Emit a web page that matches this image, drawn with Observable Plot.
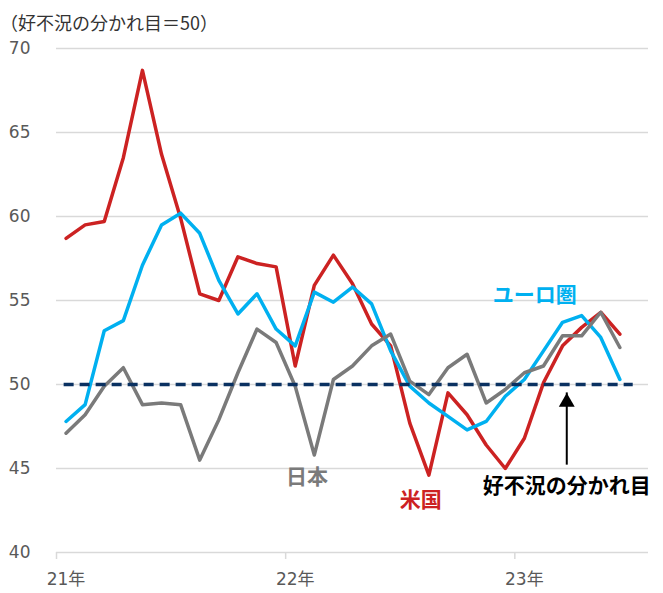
<!DOCTYPE html>
<html>
<head>
<meta charset="utf-8">
<script src="https://cdn.jsdelivr.net/npm/d3@7"></script>
<script src="https://cdn.jsdelivr.net/npm/@observablehq/plot@0.6"></script>
<style>
  html, body { margin: 0; padding: 0; background: #fff; }
  #wrap { position: relative; width: 663px; height: 593px; }
  #title { position: absolute; left: 0px; top: 12px; font: 18px/20px "Noto Sans CJK JP", sans-serif; color: #333; white-space: nowrap; }
  #chart { position: absolute; left: 0; top: 36px; }
</style>
</head>
<body>
<div id="wrap">
  <div id="title">（好不況の分かれ目＝50）</div>
  <div id="chart"></div>
</div>
<script>
// Months (Jan 2021 – Jun 2023), composite PMI
const months = ["2021-01","2021-02","2021-03","2021-04","2021-05","2021-06","2021-07","2021-08","2021-09","2021-10","2021-11","2021-12",
                "2022-01","2022-02","2022-03","2022-04","2022-05","2022-06","2022-07","2022-08","2022-09","2022-10","2022-11","2022-12",
                "2023-01","2023-02","2023-03","2023-04","2023-05","2023-06"];
const us    = [58.7,59.5,59.7,63.5,68.7,63.7,59.9,55.4,55.0,57.6,57.2,57.0,51.1,55.9,57.7,56.0,53.6,52.3,47.7,44.6,49.5,48.2,46.4,45.0,46.8,50.1,52.3,53.4,54.3,53.0];
const euro  = [47.8,48.8,53.2,53.8,57.1,59.5,60.2,59.0,56.2,54.2,55.4,53.3,52.3,55.5,54.9,55.8,54.8,52.0,49.9,48.9,48.1,47.3,47.8,49.3,50.3,52.0,53.7,54.1,52.8,50.3];
const japan = [47.1,48.2,49.9,51.0,48.8,48.9,48.8,45.5,47.9,50.7,53.3,52.5,49.9,45.8,50.3,51.1,52.3,53.0,50.2,49.4,51.0,51.8,48.9,49.7,50.7,51.1,52.9,52.9,54.3,52.2];
const threshold = 50;
const yTicks = [40, 45, 50, 55, 60, 65, 70];
const yearLabels = ["21年", "22年", "23年"];
const yearStarts = [0, 12, 24];          // month index of each January
const yearBoundaries = [-0.5, 11.5, 23.5];
const labels = [
  {text: "ユーロ圏", x: 24.55, y: 55.3, color: "#00b0f0"},
  {text: "日本", x: 12.62, y: 44.45, color: "#7a7a7a"},
  {text: "米国", x: 18.58, y: 43.08, color: "#cc2222"},
  {text: "好不況の分かれ目", x: 26.22, y: 43.97, color: "#000000"}
];
const arrowData = [{x: 26.22, from: 45.2, to: 49.5}];

const RED = "#cc2222", BLUE = "#00b0f0", GRAY = "#7a7a7a", NAVY = "#0a3161";
const rows = vals => vals.map((v, i) => ({i, v, month: months[i]}));

const chart = Plot.plot({
  width: 663,
  height: 557,
  marginLeft: 56,
  marginRight: 15,
  marginTop: 12,
  marginBottom: 41,
  style: {fontFamily: '"DejaVu Sans","Noto Sans CJK JP",sans-serif', fontSize: "17px", color: "#595959", background: "white"},
  x: {domain: [-0.5, 30.5], axis: null},
  y: {domain: [40, 70], axis: null},
  marks: [
    Plot.ruleY(yTicks, {stroke: "#d9d9d9", strokeWidth: 1.5}),
    Plot.axisY(yTicks, {tickSize: 0, tickPadding: 26, fontSize: 17, fill: "#595959"}),
    Plot.axisX(yearBoundaries, {tickSize: 7, tickFormat: () => "", stroke: "#d9d9d9", strokeWidth: 1.5}),
    Plot.axisX(yearStarts, {tickSize: 0, tickPadding: 20, fontSize: 17, fill: "#595959",
      tickFormat: d => yearLabels[yearStarts.indexOf(d)]}),
    Plot.line(rows(us), {x: "i", y: "v", stroke: RED, strokeWidth: 3.5}),
    Plot.line(rows(euro), {x: "i", y: "v", stroke: BLUE, strokeWidth: 3.5}),
    Plot.line(rows(japan), {x: "i", y: "v", stroke: GRAY, strokeWidth: 3.5}),
    Plot.ruleY([threshold], {x1: -0.1, x2: 29.7, stroke: NAVY, strokeWidth: 3.5, strokeDasharray: "10,6"}),
    Plot.ruleX(arrowData, {x: "x", y1: "from", y2: "to", stroke: "#000", strokeWidth: 2}),
    Plot.dot(arrowData, {x: "x", y: "to", symbol: "triangle", r: 5.9, fill: "#000", stroke: "none", dy: 9.2}),
    Plot.text(labels, {x: "x", y: "y", text: "text", fill: "color", fontSize: 21, fontWeight: "bold",
      fontFamily: '"Noto Sans CJK JP", sans-serif'})
  ]
});
document.getElementById("chart").appendChild(chart);
</script>
</body>
</html>
